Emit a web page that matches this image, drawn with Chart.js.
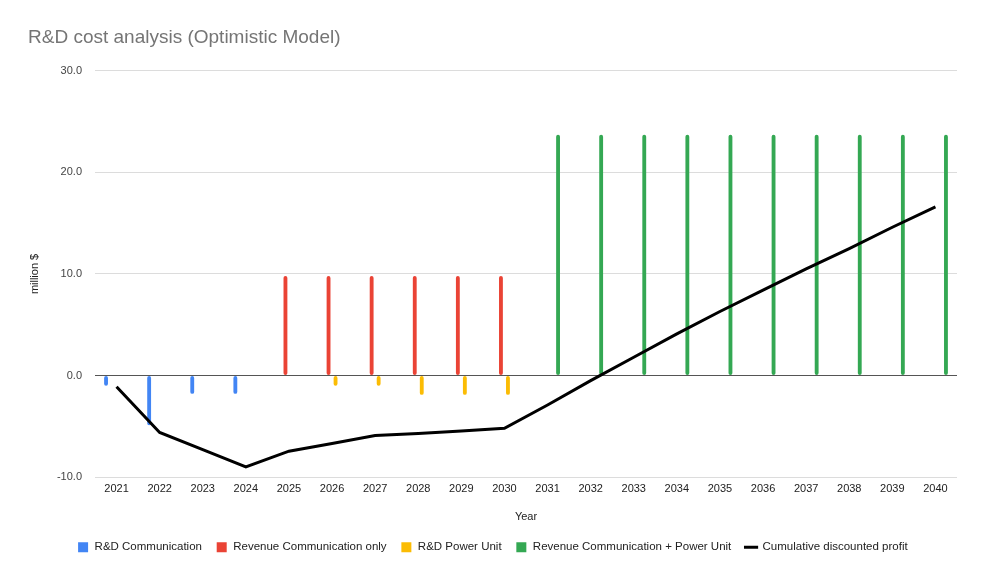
<!DOCTYPE html>
<html>
<head>
<meta charset="utf-8">
<script src="https://cdn.jsdelivr.net/npm/chart.js@4/dist/chart.umd.min.js"></script>
<style>
  html, body { margin: 0; padding: 0; background: #fff; }
  #wrap { width: 991px; height: 580px; }
</style>
</head>
<body>
<div id="wrap"><canvas id="rdChart" width="991" height="580"></canvas></div>
<script>
// years on the x axis
const years = ['2021', '2022', '2023', '2024', '2025', '2026', '2027', '2028', '2029', '2030',
               '2031', '2032', '2033', '2034', '2035', '2036', '2037', '2038', '2039', '2040'];

// million $
const rdCommunication = [-1.0, -4.9, -1.8, -1.8, null, null, null, null, null, null,
                         null, null, null, null, null, null, null, null, null, null];
const revenueCommOnly = [null, null, null, null, 9.8, 9.8, 9.8, 9.8, 9.8, 9.8,
                         null, null, null, null, null, null, null, null, null, null];
const rdPowerUnit = [null, null, null, null, null, -1.0, -1.0, -1.9, -1.9, -1.9,
                     null, null, null, null, null, null, null, null, null, null];
const revenueCommPower = [null, null, null, null, null, null, null, null, null, null,
                          23.7, 23.7, 23.7, 23.7, 23.7, 23.7, 23.7, 23.7, 23.7, 23.7];
const cumulativeProfit = [-1.1, -5.6, -7.3, -9.0, -7.45, -6.7, -5.9, -5.7, -5.45, -5.2,
                          -2.9, -0.5, 1.8, 4.1, 6.3, 8.4, 10.5, 12.5, 14.6, 16.6];

const yTicks = [-10, 0, 10, 20, 30];

Chart.defaults.font.family = 'Arial, "Liberation Sans", sans-serif';

function barSet(label, data, color) {
    return {
        type: 'bar',
        label: label,
        data: data,
        backgroundColor: color,
        borderColor: color,
        borderWidth: 0,
        borderRadius: 2,
        borderSkipped: false,
        categoryPercentage: 0.65,
        barPercentage: 0.55,
        pointStyle: 'rect',
        order: 1
    };
}

const ctx = document.getElementById('rdChart').getContext('2d');
const rdChart = new Chart(ctx, {
    data: {
        labels: years,
        datasets: [
            barSet('R&D Communication', rdCommunication, '#4285F4'),
            barSet('Revenue Communication only', revenueCommOnly, '#EA4335'),
            barSet('R&D Power Unit', rdPowerUnit, '#FBBC04'),
            barSet('Revenue Communication + Power Unit', revenueCommPower, '#34A853'),
            {
                type: 'line',
                label: 'Cumulative discounted profit',
                data: cumulativeProfit,
                borderColor: '#000',
                backgroundColor: '#000',
                borderWidth: 3,
                pointRadius: 0,
                pointStyle: 'line',
                tension: 0,
                order: 0
            }
        ]
    },
    options: {
        responsive: false,
        animation: false,
        layout: { padding: { left: 28, right: 34, top: 0, bottom: 17 } },
        scales: {
            x: {
                grid: { display: false, drawTicks: false },
                border: { display: false },
                ticks: { color: '#222', font: { size: 11 }, padding: 5, maxRotation: 0, autoSkip: false },
                title: { display: true, text: 'Year', color: '#222', font: { size: 11 }, padding: { top: 10, bottom: 4 } }
            },
            y: {
                min: -10,
                max: 30,
                afterBuildTicks: (scale) => { scale.ticks = yTicks.map(v => ({ value: v })); },
                afterFit: (scale) => { scale.width = 67; },
                grid: {
                    drawTicks: false,
                    color: (c) => c.tick && c.tick.value === 0 ? '#555' : '#dcdcdc'
                },
                border: { display: false },
                ticks: {
                    color: '#444',
                    font: { size: 11 },
                    padding: 13,
                    callback: (v) => Number(v).toFixed(1)
                },
                title: { display: true, text: 'million $', color: '#222', font: { size: 11 }, padding: 0 }
            }
        },
        plugins: {
            title: {
                display: true,
                text: 'R&D cost analysis (Optimistic Model)',
                align: 'start',
                color: '#757575',
                font: { size: 19, weight: 'normal' },
                padding: { top: 26, bottom: 22 }
            },
            legend: {
                position: 'bottom',
                labels: {
                    usePointStyle: true,
                    boxWidth: 12,
                    boxHeight: 10,
                    padding: 14,
                    color: '#222',
                    font: { size: 11.5 },
                    sort: (a, b) => a.datasetIndex - b.datasetIndex
                }
            },
            tooltip: { enabled: false }
        }
    }
});
</script>
</body>
</html>
